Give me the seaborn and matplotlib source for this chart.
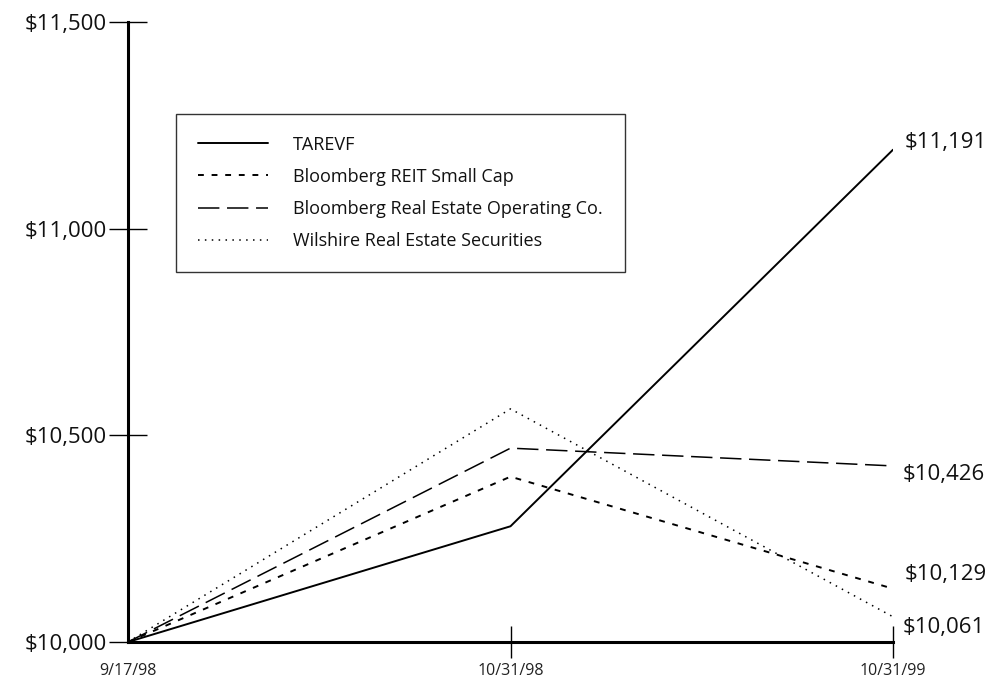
import matplotlib
matplotlib.use("Agg")
import matplotlib.pyplot as plt
import seaborn as sns
import pandas as pd

# ---- data ----
dates = ["9/17/98", "10/31/98", "10/31/99"]
tarevf = [10000, 10280, 11191]
reit_small_cap = [10000, 10400, 10129]
re_operating = [10000, 10469, 10426]
wilshire = [10000, 10564, 10061]
series_names = ["TAREVF", "Bloomberg REIT Small Cap",
                "Bloomberg Real Estate Operating Co.", "Wilshire Real Estate Securities"]
yticks = [10000, 10500, 11000, 11500]
ytick_labels = ["$10,000", "$10,500", "$11,000", "$11,500"]

sns.set_theme(style="white")
plt.rcParams['font.family'] = ['Open Sans', 'DejaVu Sans']

fig = plt.figure(figsize=(10.05, 6.8), dpi=100)
ax = fig.add_axes([128/1005, 38/680, (893-128)/1005, 620/680])

values = [tarevf, reit_small_cap, re_operating, wilshire]
styles = [dict(linestyle="-", linewidth=1.4),
          dict(linestyle=(0, (3, 4)), linewidth=1.4),
          dict(linestyle=(0, (14, 5)), linewidth=1.1),
          dict(linestyle=(0, (1, 3.5)), linewidth=1.1)]
xs = list(range(len(dates)))
for name, vals, st in zip(series_names, values, styles):
    df = pd.DataFrame({"x": xs, "y": vals})
    sns.lineplot(data=df, x="x", y="y", ax=ax, color="black", label=name, **st)

ax.set_xlim(0, 2)
ax.set_ylim(10000, 11500)
ax.set_xlabel("")
ax.set_ylabel("")

for s in ["top", "right"]:
    ax.spines[s].set_visible(False)
for s in ["left", "bottom"]:
    ax.spines[s].set_color("black")
    ax.spines[s].set_linewidth(2.2)

ax.set_yticks(yticks)
ax.set_yticklabels(ytick_labels)
ax.tick_params(axis="y", direction="inout", length=27, width=1, color="black",
               labelsize=16, pad=2, left=True)
ax.set_xticks([1, 2])
ax.set_xticklabels([])
ax.tick_params(axis="x", direction="inout", length=23, width=1, color="black",
               bottom=True)
for v, lab in zip(xs, dates):
    ax.text(v, -0.047, lab, transform=ax.get_xaxis_transform(), ha="center",
            va="center", fontsize=11.5, color="#222222")
for lab in ax.get_yticklabels():
    lab.set_color("#111111")

# end labels
offsets = [(8.5, 5), (8.5, 10), (7, -6), (7, -8)]
for vals, off in zip(values, offsets):
    ax.annotate(f"${vals[-1]:,}", xy=(xs[-1], vals[-1]), xytext=off,
                textcoords="offset points", ha="left", va="center",
                fontsize=16, color="#111111", annotation_clip=False)

leg = ax.legend(loc="upper left", bbox_to_anchor=(176/1005, 1-114/680),
                bbox_transform=fig.transFigure, fontsize=13, frameon=True,
                fancybox=False, edgecolor="black", handlelength=3.9,
                handletextpad=1.4, borderpad=1.2, labelspacing=0.78,
                borderaxespad=0)
leg.get_frame().set_linewidth(1.0)
for t in leg.get_texts():
    t.set_color("#111111")

fig.savefig("out.png", dpi=100, facecolor="white")
